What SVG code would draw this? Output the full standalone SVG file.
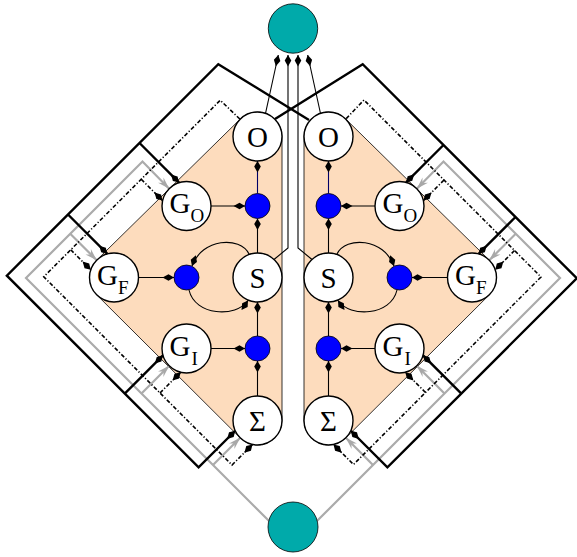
<svg xmlns="http://www.w3.org/2000/svg" width="577" height="557" viewBox="0 0 577 557">
<defs>
<style>
.bg{fill:#fff}
.peach{fill:#fddcbd;stroke:#000;stroke-width:0.8}
.thin{fill:none;stroke:#000;stroke-width:1.1}
.navy{fill:none;stroke:#000066;stroke-width:1.1}
.thick{fill:none;stroke:#000;stroke-width:2.4;stroke-linejoin:miter}
.grey{fill:none;stroke:#ababab;stroke-width:2.2;stroke-linejoin:miter}
.dd{fill:none;stroke:#000;stroke-width:1.6;stroke-dasharray:4 2 1.2 2}
.node{fill:#fff;stroke:#000;stroke-width:1.4}
.blue{fill:#0000ff;stroke:#000;stroke-width:0.8}
.teal{fill:#00aaaa;stroke:#000;stroke-width:0.8}
text{font-family:"Liberation Serif","Times New Roman",serif;fill:#000}
.lbl{font-size:29px;text-anchor:middle}
.g{font-size:29px}
.sub{font-size:19px}
</style>
<marker id="dia" markerUnits="userSpaceOnUse" orient="auto" refX="0" refY="0" markerWidth="14" markerHeight="10" viewBox="-13 -5 14 10" style="overflow:visible">
<path d="M0,0 L-5.5,-3.3 L-11.5,0 L-5.5,3.3 Z" fill="#000"/>
</marker>
<marker id="gar" markerUnits="userSpaceOnUse" orient="auto" refX="0" refY="0" markerWidth="14" markerHeight="10" viewBox="-13 -5 14 10" style="overflow:visible">
<path d="M0,0 L-12,-3.8 L-8,0 L-12,3.8 Z" fill="#a8a8a8"/>
</marker>
</defs>
<rect class="bg" x="0" y="0" width="577" height="557"/>

<g id="regions">
<path class="peach" d="M96.83,260.02 L240.33,119.02 A24.5,24.5 0 0 1 282,136.5 L282,420.5 A24.5,24.5 0 0 1 240.21,437.85 L96.71,294.85 Z"/>
<path class="peach" d="M489.17,260.02 L345.67,119.02 A24.5,24.5 0 0 0 304,136.5 L304,420.5 A24.5,24.5 0 0 0 345.79,437.85 L489.29,294.85 Z"/>
</g>

<g id="connectors">
<!-- left grey input -->
<path class="grey" d="M268.8,520.8 L26,278 L142.5,161.5 L169.2,188.7" marker-end="url(#gar)"/>
<path class="grey" d="M70.25,233.75 L96.7,260.2" marker-end="url(#gar)"/>
<path class="grey" d="M141.5,393.5 L169.2,365.8" marker-end="url(#gar)"/>
<path class="grey" d="M213,465 L240.2,437.8" marker-end="url(#gar)"/>
<!-- right grey input -->
<path class="grey" d="M317.2,520.8 L560,278 L443.5,161.5 L416.8,188.7" marker-end="url(#gar)"/>
<path class="grey" d="M515.75,233.75 L489.3,260.2" marker-end="url(#gar)"/>
<path class="grey" d="M444.5,393.5 L416.8,365.8" marker-end="url(#gar)"/>
<path class="grey" d="M373,465 L345.8,437.8" marker-end="url(#gar)"/>

<!-- left dash-dot -->
<path class="dd" d="M239.8,119 L220.25,100.25 L43.75,276.75 L232,465 L252.5,444.5" marker-end="url(#dia)"/>
<path class="dd" d="M141.25,179.25 L162.6,200.6" marker-end="url(#dia)"/>
<path class="dd" d="M70.75,249.75 L90.75,269.75" marker-end="url(#dia)"/>
<path class="dd" d="M160,393 L180.7,372.3" marker-end="url(#dia)"/>
<!-- right dash-dot -->
<path class="dd" d="M346.2,118.6 L364,100 L541,277 L353.5,464.5 L333.5,444.5" marker-end="url(#dia)"/>
<path class="dd" d="M444,180 L423.4,200.6" marker-end="url(#dia)"/>
<path class="dd" d="M514.5,250.5 L495.25,269.75" marker-end="url(#dia)"/>
<path class="dd" d="M425.5,392.5 L405.3,372.3" marker-end="url(#dia)"/>

<!-- left thick -->
<path class="thick" d="M309,120 L218.3,64.2 L6.85,275.65 L198.6,467.4 L235.25,430.75" marker-end="url(#dia)"/>
<path class="thick" d="M139.5,143 L179.1,182.6" marker-end="url(#dia)"/>
<path class="thick" d="M68,214.5 L107.4,253.9" marker-end="url(#dia)"/>
<path class="thick" d="M124.75,393.55 L162.95,355.35" marker-end="url(#dia)"/>
<!-- right thick -->
<path class="thick" d="M275,119 L362.7,64.2 L576.75,278.25 L387.4,467.4 L350.75,430.75" marker-end="url(#dia)"/>
<path class="thick" d="M443.5,145 L406.1,182.4" marker-end="url(#dia)"/>
<path class="thick" d="M515.5,217 L478.6,253.9" marker-end="url(#dia)"/>
<path class="thick" d="M461.35,393.65 L423.05,355.35" marker-end="url(#dia)"/>

<!-- outputs to top -->
<path class="thin" d="M265.5,113.5 L278.3,55" marker-end="url(#dia)"/>
<path class="thin" d="M274,259.5 L288,248 L288,55" marker-end="url(#dia)"/>
<path class="thin" d="M312,259.5 L298,248 L298,55" marker-end="url(#dia)"/>
<path class="thin" d="M320.5,113.5 L307.7,55" marker-end="url(#dia)"/>

<!-- left block internals -->
<path class="thin" d="M211,206 L245,206" marker-end="url(#dia)"/>
<path class="navy" d="M257.5,193.5 L257.5,161" marker-end="url(#dia)"/>
<path class="thin" d="M257.5,253 L257.5,218.5" marker-end="url(#dia)"/>
<path class="thin" d="M138.5,277.5 L174,277.5" marker-end="url(#dia)"/>
<path class="thin" d="M249,254 C240,236 202,238 192,266" marker-end="url(#dia)"/>
<path class="thin" d="M189,290 C195,316 236,318 248,300.5" marker-end="url(#dia)"/>
<path class="thin" d="M211,348.5 L245,348.5" marker-end="url(#dia)"/>
<path class="thin" d="M257.5,396 L257.5,361" marker-end="url(#dia)"/>
<path class="thin" d="M257.5,336 L257.5,302" marker-end="url(#dia)"/>
<!-- right block internals -->
<path class="thin" d="M375,206 L341,206" marker-end="url(#dia)"/>
<path class="navy" d="M328.5,193.5 L328.5,161" marker-end="url(#dia)"/>
<path class="thin" d="M328.5,253 L328.5,218.5" marker-end="url(#dia)"/>
<path class="thin" d="M447.5,277.5 L412,277.5" marker-end="url(#dia)"/>
<path class="thin" d="M337,254 C346,236 384,238 394,266" marker-end="url(#dia)"/>
<path class="thin" d="M397,290 C391,316 350,318 338,300.5" marker-end="url(#dia)"/>
<path class="thin" d="M375,348.5 L341,348.5" marker-end="url(#dia)"/>
<path class="thin" d="M328.5,396 L328.5,361" marker-end="url(#dia)"/>
<path class="thin" d="M328.5,336 L328.5,302" marker-end="url(#dia)"/>
</g>

<g id="top-out"><circle class="teal" cx="293" cy="28.5" r="24.7"/></g>
<g id="bottom-in"><circle class="teal" cx="293" cy="527" r="25"/></g>

<g id="L-O"><circle class="node" cx="257.5" cy="136.5" r="24.5"/><text class="lbl" x="257.5" y="146.5">O</text></g>
<g id="L-GO"><circle class="node" cx="186.5" cy="206" r="24.5"/><text class="g" x="169.5" y="213">G</text><text class="sub" x="190.5" y="222">O</text></g>
<g id="L-GF"><circle class="node" cx="114" cy="277.5" r="24.5"/><text class="g" x="97" y="285">G</text><text class="sub" x="118" y="294">F</text></g>
<g id="L-GI"><circle class="node" cx="186.5" cy="348.5" r="24.5"/><text class="g" x="169.5" y="355.5">G</text><text class="sub" x="191.5" y="364.5">I</text></g>
<g id="L-S"><circle class="node" cx="257.5" cy="277.5" r="24.5"/><text class="lbl" x="257.5" y="287.5">S</text></g>
<g id="L-Sum"><circle class="node" cx="257.5" cy="420.5" r="24.5"/><text class="lbl" x="257.5" y="430.5">Σ</text></g>
<g id="L-mO"><circle class="blue" cx="257.5" cy="206" r="12.5"/></g>
<g id="L-mF"><circle class="blue" cx="186.5" cy="277.5" r="12.5"/></g>
<g id="L-mI"><circle class="blue" cx="257.5" cy="348.5" r="12.5"/></g>

<g id="R-O"><circle class="node" cx="328.5" cy="136.5" r="24.5"/><text class="lbl" x="328.5" y="146.5">O</text></g>
<g id="R-GO"><circle class="node" cx="399.5" cy="206" r="24.5"/><text class="g" x="382.5" y="213">G</text><text class="sub" x="403.5" y="222">O</text></g>
<g id="R-GF"><circle class="node" cx="472" cy="277.5" r="24.5"/><text class="g" x="455" y="285">G</text><text class="sub" x="476" y="294">F</text></g>
<g id="R-GI"><circle class="node" cx="399.5" cy="348.5" r="24.5"/><text class="g" x="382.5" y="355.5">G</text><text class="sub" x="404.5" y="364.5">I</text></g>
<g id="R-S"><circle class="node" cx="328.5" cy="277.5" r="24.5"/><text class="lbl" x="328.5" y="287.5">S</text></g>
<g id="R-Sum"><circle class="node" cx="328.5" cy="420.5" r="24.5"/><text class="lbl" x="328.5" y="430.5">Σ</text></g>
<g id="R-mO"><circle class="blue" cx="328.5" cy="206" r="12.5"/></g>
<g id="R-mF"><circle class="blue" cx="399.5" cy="277.5" r="12.5"/></g>
<g id="R-mI"><circle class="blue" cx="328.5" cy="348.5" r="12.5"/></g>
</svg>
